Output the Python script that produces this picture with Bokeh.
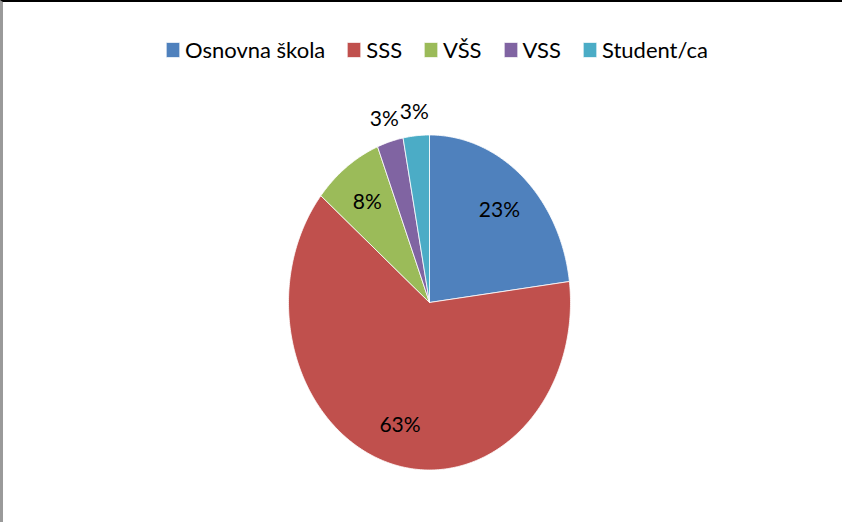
import numpy as np
from bokeh.plotting import figure
from bokeh.models import ColumnDataSource, Legend, LegendItem, Range1d
from bokeh.embed import file_html
from bokeh.resources import INLINE
from bokeh.core.properties import value

# ---- data ----
categories = ["Osnovna škola", "SSS", "VŠS", "VSS", "Student/ca"]
percents = [23, 63, 8, 3, 3]
labels = ["23%", "63%", "8%", "3%", "3%"]
colors = ["#4F81BD", "#C0504D", "#9BBB59", "#8064A2", "#4BACC6"]

# ---- layout ----
W, H = 842, 522
CX, CY = 426, 300          # pie centre in canvas px (from left / from top)
RX, RY = 141, 167.5        # stretched pie radii in px
FONT = "Lato"

p = figure(width=W, height=H, output_backend="svg", toolbar_location=None,
           x_range=Range1d(-CX, W - CX), y_range=Range1d(-(H - CY), CY),
           min_border=0, outline_line_color=None)
p.axis.visible = False
p.grid.visible = False
p.styles = {"border-top": "2px solid #000000", "border-left": "3px solid #9a9a9a"}

total = float(sum(percents))
start = np.pi / 2
xs, ys, lx, ly = [], [], [], []
for v in percents:
    span = 2 * np.pi * v / total
    end = start - span
    t = np.linspace(start, end, max(int(span * 80), 6))
    xs.append(np.concatenate([[0.0], RX * np.cos(t), [0.0]]))
    ys.append(np.concatenate([[0.0], RY * np.sin(t), [0.0]]))
    mid = (start + end) / 2
    r = 0.75 if v / total >= 0.05 else 1.15
    lx.append(r * RX * np.cos(mid))
    ly.append(r * RY * np.sin(mid))
    start = end

src = ColumnDataSource(dict(xs=xs, ys=ys, color=colors, cat=categories))
rend = p.patches("xs", "ys", source=src, fill_color="color",
                 line_color="white", line_width=0.8)

lab_src = ColumnDataSource(dict(x=lx, y=ly, text=labels))
p.text("x", "y", text="text", source=lab_src, text_align="center",
       text_baseline="middle", text_font=value(FONT), text_font_size="21px",
       text_color="#000000")

items = [LegendItem(label=c, renderers=[rend], index=i) for i, c in enumerate(categories)]
legend = Legend(items=items, orientation="horizontal", location=(161, 461),
                glyph_width=17, glyph_height=19, label_standoff=4, spacing=20,
                padding=0, margin=0, border_line_color=None,
                background_fill_alpha=0, label_text_font=FONT,
                label_text_font_size="22px", label_text_color="#000000")
p.add_layout(legend)

open("out.html", "w").write(file_html(p, INLINE))
